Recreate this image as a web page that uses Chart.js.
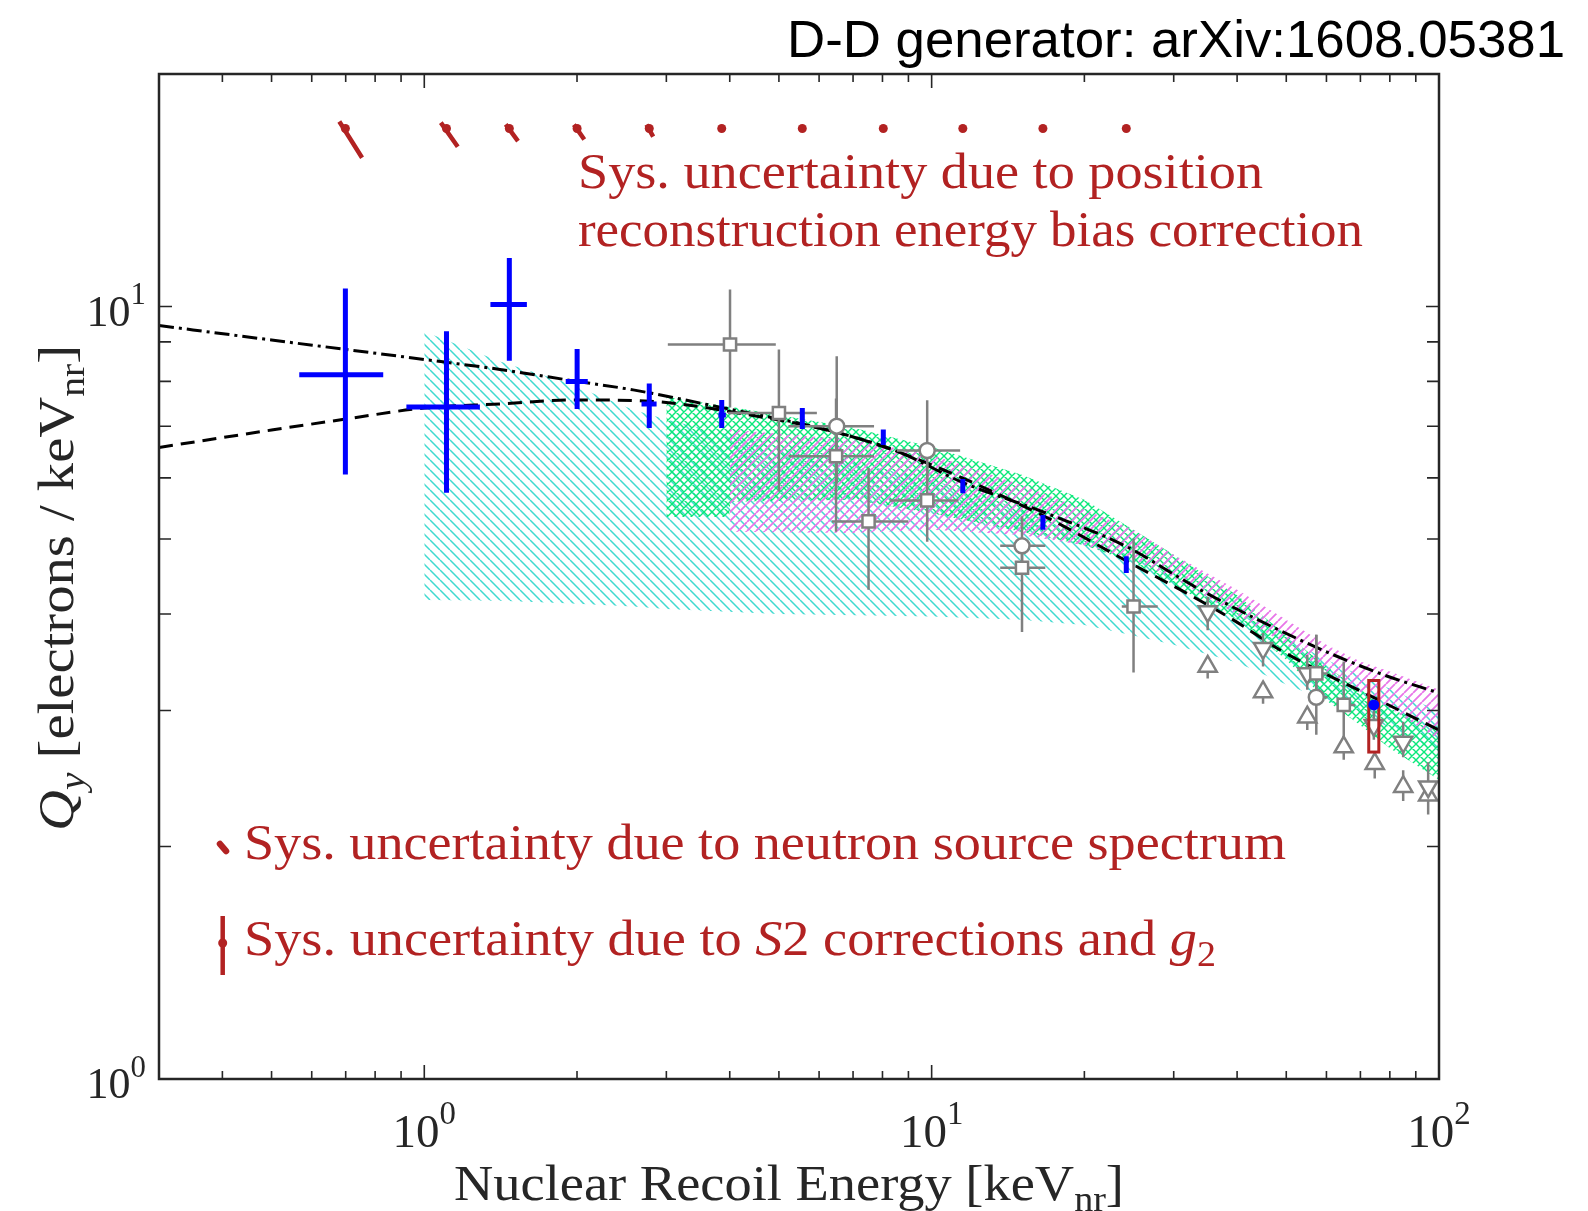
<!DOCTYPE html>
<html>
<head>
<meta charset="utf-8">
<script src="https://cdn.jsdelivr.net/npm/chart.js@4/dist/chart.umd.min.js"></script>
<style>
  html, body { margin: 0; padding: 0; background: #ffffff; }
  #wrap { width: 1588px; height: 1211px; }
</style>
</head>
<body>
<div id="wrap"><canvas id="qy" width="1588" height="1211"></canvas></div>
<script>
// ---------- axis ticks ----------
const xMajorTicks = [1, 10, 100];
const xTickExponents = ['0', '1', '2'];
const xMinorTicks = [0.4, 0.5, 0.6, 0.7, 0.8, 0.9, 2, 3, 4, 5, 6, 7, 8, 9, 20, 30, 40, 50, 60, 70, 80, 90];
const yMajorTicks = [1, 10];
const yTickExponents = ['0', '1'];
const yMinorTicks = [2, 3, 4, 5, 6, 7, 8, 9, 20];

// ---------- LUX D-D charge yield (keVnr, electrons/keVnr) ----------
const luxE    = [0.699, 1.106, 1.471, 2.001, 2.776, 3.857, 5.56, 8.03, 11.52, 16.57, 24.19];
const luxQy   = [8.16, 7.41, 10.06, 8.00, 7.48, 7.24, 7.16, 6.77, 5.86, 5.26, 4.63];
const luxQyLo = [6.06, 5.74, 8.51, 7.37, 6.96, 6.96, 6.94, 6.62, 5.73, 5.14, 4.52];
const luxQyHi = [10.55, 9.29, 11.56, 8.81, 7.95, 7.57, 7.39, 6.93, 5.98, 5.37, 4.75];
const luxELo  = [0.567, 0.922, 1.35, 1.90, 2.68, 3.80, 5.56, 8.03, 11.52, 16.57, 24.19];
const luxEHi  = [0.83, 1.287, 1.593, 2.10, 2.87, 3.93, 5.56, 8.03, 11.52, 16.57, 24.19];

// 73.9 keV endpoint point and its systematic box
const endE  = [74.4];
const endQy = [3.05];
const endBoxE  = [72.7, 76.1];
const endBoxQy = [2.65, 3.28];

// neutron source spectrum systematics, drawn as a row above the data
const specQy   = [17, 17, 17, 17, 17, 17, 17, 17, 17, 17, 17];
const specE0   = [0.680, 1.078, 1.447, 1.972, 2.741, 3.857, 5.56, 8.03, 11.52, 16.57, 24.19];
const specQy0  = [17.36, 17.3, 17.21, 17.2, 17.2, 17, 17, 17, 17, 17, 17];
const specE1   = [0.754, 1.164, 1.53, 2.067, 2.826, 3.857, 5.56, 8.03, 11.52, 16.57, 24.19];
const specQy1  = [15.58, 16.1, 16.37, 16.45, 16.59, 17, 17, 17, 17, 17, 17];

// ---------- earlier measurements (open markers) ----------
const sqE    = [4.005, 5.00, 6.48, 7.51, 9.80, 15.07, 25.0, 57.3, 64.9];
const sqQy   = [8.93, 7.28, 6.40, 5.27, 5.61, 4.59, 4.09, 3.35, 3.05];
const sqELo  = [3.02, 3.97, 5.22, 6.36, 8.26, 13.65, 23.7, 55.3, 63.0];
const sqEHi  = [4.93, 5.94, 7.70, 9.00, 11.29, 16.75, 27.9, 60.3, 68.4];
const sqQyLo = [7.40, 5.76, 5.11, 4.30, 4.96, 3.79, 3.36, 3.12, 2.75];
const sqQyHi = [10.52, 8.80, 7.60, 6.18, 6.30, 4.90, 5.01, 3.76, 3.47];

const ciE    = [6.50, 9.80, 15.07, 57.3];
const ciQy   = [7.00, 6.51, 4.90, 3.12];
const ciELo  = [5.22, 8.54, 13.65, 55.3];
const ciEHi  = [7.70, 11.38, 16.75, 60.3];
const ciQyLo = [5.90, 5.90, 4.60, 2.79];
const ciQyHi = [8.62, 7.56, 5.35, 3.76];

const dnE    = [35.0, 45.0, 55.0, 74.4, 85.0, 95.2];
const dnQy   = [4.03, 3.61, 3.35, 2.87, 2.73, 2.39];
const dnQyLo = [3.81, 3.42, 3.19, 2.75, 2.61, 2.39];
const dnQyHi = [4.21, 3.78, 3.54, 3.00, 2.90, 2.57];

const upE    = [35.0, 45.0, 55.0, 64.9, 74.7, 85.0, 95.2];
const upQy   = [3.42, 3.17, 2.94, 2.69, 2.56, 2.39, 2.33];
const upQyLo = [3.30, 3.06, 2.83, 2.59, 2.45, 2.29, 2.20];
const upQyHi = [3.50, 3.25, 3.02, 2.78, 2.63, 2.51, 2.33];

// ---------- model curves ----------
const dashDotE  = [0.3, 0.5, 0.7, 1.0, 1.41, 2.0, 2.58, 3.78, 6.4, 8.67, 11.5, 16.6, 24.2, 30.9, 33.8, 53.3, 76.4, 100];
const dashDotQy = [9.45, 9.05, 8.80, 8.54, 8.29, 8.0, 7.80, 7.42, 6.89, 6.47, 5.92, 5.42, 4.89, 4.45, 4.30, 3.70, 3.35, 3.16];
const dashedE   = [0.3, 0.5, 0.7, 1.0, 1.41, 1.96, 2.79, 3.39, 4.06, 6.39, 8.67, 16.6, 25.0, 30.9, 39.3, 48.7, 76.4, 100];
const dashedQy  = [6.57, 6.92, 7.15, 7.39, 7.48, 7.57, 7.54, 7.44, 7.30, 6.89, 6.47, 5.36, 4.63, 4.30, 3.93, 3.59, 3.09, 2.83];

// ---------- hatched bands ----------
const cyanE  = [1, 1.41, 1.91, 2.58, 3, 5, 10, 15, 20, 25, 30, 40, 50, 60, 70, 80, 100];
const cyanHi = [9.28, 8.49, 7.97, 7.35, 7.14, 6.58, 5.97, 5.46, 5.04, 4.74, 4.45, 4.02, 3.72, 3.49, 3.33, 3.20, 2.99];
const cyanLo = [4.17, 4.16, 4.13, 4.09, 4.06, 4.00, 3.97, 3.93, 3.87, 3.75, 3.65, 3.46, 3.24, 3.09, 2.97, 2.85, 2.65];

const greenE  = [3, 3.99, 4.01, 7, 10, 15, 20, 25, 30, 40, 50, 60, 70, 80, 100];
const greenHi = [7.64, 7.42, 7.42, 6.97, 6.58, 6.06, 5.62, 5.14, 4.77, 4.23, 3.76, 3.42, 3.19, 3.02, 2.83];
const greenLo = [5.34, 5.34, 5.59, 5.62, 5.40, 5.11, 4.91, 4.66, 4.36, 3.93, 3.49, 3.09, 2.87, 2.68, 2.44];

const pinkE  = [4, 7, 10, 15, 20, 25, 30, 40, 50, 60, 70, 80, 100];
const pinkHi = [6.93, 6.72, 6.43, 5.88, 5.46, 5.14, 4.77, 4.30, 3.93, 3.65, 3.47, 3.37, 3.19];
const pinkLo = [5.11, 5.09, 5.14, 5.06, 4.91, 4.70, 4.45, 3.99, 3.65, 3.37, 3.17, 3.02, 2.75];

// ---------- styling ----------
const GRAY = '#808080';
const RED = '#B22222';
const BLUE = '#0000FF';
const AXIS = '#262626';
const SERIF = '"Liberation Serif", "DejaVu Serif", serif';
const SANS = '"Liberation Sans", Arial, sans-serif';

const pts = (xs, ys) => xs.map((x, i) => ({ x: x, y: ys[i] }));

function hatch(color, size, dirs, lw) {
  const c = document.createElement('canvas');
  c.width = size; c.height = size;
  const g = c.getContext('2d');
  g.strokeStyle = color; g.lineWidth = lw;
  g.beginPath();
  for (let k = -1; k <= 1; k++) {
    if (dirs.indexOf('\\') >= 0) { g.moveTo(k * size, 0); g.lineTo(k * size + size, size); }
    if (dirs.indexOf('/') >= 0) { g.moveTo(k * size, size); g.lineTo(k * size + size, 0); }
  }
  g.stroke();
  return g.createPattern(c, 'repeat');
}

const cyanHatch = hatch('rgb(64,218,208)', 10, '\\', 1.5);
const greenHatch = hatch('rgb(10,232,122)', 8, '\\/', 1.4);
const pinkHatch = hatch('rgb(232,118,232)', 9, '/', 1.8);

// ---------- drawing helpers (all positions go through the chart scales) ----------
function errBars(chart, ctx, xs, ys, xlo, xhi, ylo, yhi, color, width) {
  const X = chart.scales.x, Y = chart.scales.y;
  ctx.strokeStyle = color; ctx.lineWidth = width; ctx.lineCap = 'butt';
  ctx.beginPath();
  for (let i = 0; i < xs.length; i++) {
    const px = X.getPixelForValue(xs[i]);
    const py = Y.getPixelForValue(ys[i]);
    if (ylo && ylo[i] !== yhi[i]) {
      ctx.moveTo(px, Y.getPixelForValue(ylo[i]));
      ctx.lineTo(px, Y.getPixelForValue(yhi[i]));
    }
    if (xlo && xlo[i] !== xhi[i]) {
      ctx.moveTo(X.getPixelForValue(xlo[i]), py);
      ctx.lineTo(X.getPixelForValue(xhi[i]), py);
    }
  }
  ctx.stroke();
}

const preDraw = {
  up(chart, ctx) {
    errBars(chart, ctx, sqE, sqQy, sqELo, sqEHi, sqQyLo, sqQyHi, GRAY, 2.5);
    errBars(chart, ctx, ciE, ciQy, ciELo, ciEHi, ciQyLo, ciQyHi, GRAY, 2.5);
    errBars(chart, ctx, dnE, dnQy, null, null, dnQyLo, dnQyHi, GRAY, 2.5);
    errBars(chart, ctx, upE, upQy, null, null, upQyLo, upQyHi, GRAY, 2.5);
  },
  endpoint(chart, ctx) {
    errBars(chart, ctx, luxE, luxQy, luxELo, luxEHi, luxQyLo, luxQyHi, BLUE, 5);
    const X = chart.scales.x, Y = chart.scales.y;
    const x0 = X.getPixelForValue(endBoxE[0]), x1 = X.getPixelForValue(endBoxE[1]);
    const y0 = Y.getPixelForValue(endBoxQy[1]), y1 = Y.getPixelForValue(endBoxQy[0]);
    ctx.strokeStyle = RED; ctx.lineWidth = 3;
    ctx.strokeRect(x0, y0, x1 - x0, y1 - y0);
  },
  spectrum(chart, ctx) {
    const X = chart.scales.x, Y = chart.scales.y;
    ctx.strokeStyle = RED; ctx.lineWidth = 4.5; ctx.lineCap = 'butt';
    ctx.beginPath();
    for (let i = 0; i < specE0.length; i++) {
      if (specE0[i] === specE1[i]) continue;
      ctx.moveTo(X.getPixelForValue(specE0[i]), Y.getPixelForValue(specQy0[i]));
      ctx.lineTo(X.getPixelForValue(specE1[i]), Y.getPixelForValue(specQy1[i]));
    }
    ctx.stroke();
  }
};

function segFont(s, size, fam) {
  const fs = (s.sub || s.sup) ? size * 0.7 : size;
  return (s.italic ? 'italic ' : '') + fs.toFixed(2) + 'px ' + fam;
}
function richWidth(ctx, segs, size, fam) {
  let w = 0;
  for (const s of segs) { ctx.font = segFont(s, size, fam); w += ctx.measureText(s.t).width; }
  return w;
}
function drawRich(ctx, segs, x, y, size, fam, color, targetW) {
  const w = richWidth(ctx, segs, size, fam);
  const sx = targetW ? targetW / w : 1;
  ctx.save();
  ctx.translate(x, y);
  ctx.scale(sx, 1);
  ctx.fillStyle = color; ctx.textAlign = 'left'; ctx.textBaseline = 'alphabetic';
  let cx = 0;
  for (const s of segs) {
    ctx.font = segFont(s, size, fam);
    const dy = s.sub ? size * 0.22 : (s.sup ? -size * 0.48 : 0);
    ctx.fillText(s.t, cx, dy);
    cx += ctx.measureText(s.t).width;
  }
  ctx.restore();
}

const decor = {
  id: 'decor',
  beforeDatasetDraw(chart, args) {
    const ds = chart.data.datasets[args.index];
    const fn = preDraw[ds.label];
    if (!fn) return;
    const ctx = chart.ctx, a = chart.chartArea;
    ctx.save();
    ctx.beginPath(); ctx.rect(a.left, a.top, a.right - a.left, a.bottom - a.top); ctx.clip();
    fn(chart, ctx);
    ctx.restore();
  },
  afterDraw(chart) {
    const ctx = chart.ctx, a = chart.chartArea;
    const X = chart.scales.x, Y = chart.scales.y;
    ctx.save();
    // frame
    ctx.strokeStyle = AXIS; ctx.lineWidth = 2.5;
    ctx.strokeRect(a.left, a.top, a.right - a.left, a.bottom - a.top);
    // ticks, pointing inwards on all four sides
    ctx.lineWidth = 1.6;
    ctx.beginPath();
    const xt = (v, len) => {
      const p = X.getPixelForValue(v);
      ctx.moveTo(p, a.bottom); ctx.lineTo(p, a.bottom - len);
      ctx.moveTo(p, a.top); ctx.lineTo(p, a.top + len);
    };
    const yt = (v, len) => {
      const p = Y.getPixelForValue(v);
      ctx.moveTo(a.left, p); ctx.lineTo(a.left + len, p);
      ctx.moveTo(a.right, p); ctx.lineTo(a.right - len, p);
    };
    xMajorTicks.forEach(v => xt(v, 14));
    xMinorTicks.forEach(v => xt(v, 8));
    yMajorTicks.forEach(v => yt(v, 13));
    yMinorTicks.forEach(v => yt(v, 12));
    ctx.stroke();

    // tick labels
    xMajorTicks.forEach((v, i) => {
      const segs = [{ t: '10' }, { t: xTickExponents[i], sup: true }];
      const w = richWidth(ctx, segs, 47, SERIF);
      drawRich(ctx, segs, X.getPixelForValue(v) - w / 2, 1147, 47, SERIF, AXIS);
    });
    yMajorTicks.forEach((v, i) => {
      const segs = [{ t: '10' }, { t: yTickExponents[i], sup: true }];
      const w = richWidth(ctx, segs, 44, SERIF);
      drawRich(ctx, segs, 146 - w, Y.getPixelForValue(v) + 19, 44, SERIF, AXIS);
    });

    // axis titles
    drawRich(ctx, [{ t: 'Nuclear Recoil Energy [keV' }, { t: 'nr', sub: true }, { t: ']' }],
      454, 1200, 50, SERIF, AXIS, 670);
    ctx.save();
    ctx.translate(73, 831);
    ctx.rotate(-Math.PI / 2);
    drawRich(ctx, [{ t: 'Q', italic: true }, { t: 'y', italic: true, sub: true },
      { t: ' [electrons / keV' }, { t: 'nr', sub: true }, { t: ']' }],
      0, 0, 50, SERIF, AXIS, 486);
    ctx.restore();

    // header
    drawRich(ctx, [{ t: 'D-D generator: arXiv:1608.05381' }], 787, 57, 52, SANS, '#000000', 778);

    // annotations
    drawRich(ctx, [{ t: 'Sys. uncertainty due to position' }], 578, 188, 50, SERIF, RED, 685);
    drawRich(ctx, [{ t: 'reconstruction energy bias correction' }], 578, 246, 50, SERIF, RED, 785);
    drawRich(ctx, [{ t: 'Sys. uncertainty due to neutron source spectrum' }], 244, 859, 50, SERIF, RED, 1042);
    drawRich(ctx, [{ t: 'Sys. uncertainty due to ' }, { t: 'S', italic: true }, { t: '2 corrections and ' },
      { t: 'g', italic: true }, { t: '2', sub: true }], 244, 955, 50, SERIF, RED, 972);

    // legend glyphs for the two systematic markers
    ctx.strokeStyle = RED; ctx.fillStyle = RED;
    ctx.lineWidth = 6.5; ctx.lineCap = 'round';
    ctx.beginPath(); ctx.moveTo(220, 844); ctx.lineTo(226, 851); ctx.stroke();
    ctx.lineWidth = 4.5; ctx.lineCap = 'butt';
    ctx.beginPath(); ctx.moveTo(222.7, 916); ctx.lineTo(222.7, 975); ctx.stroke();
    ctx.beginPath(); ctx.arc(222.7, 943, 4.5, 0, Math.PI * 2); ctx.fill();
    ctx.restore();
  }
};

const bandStyle = { borderColor: 'rgba(0,0,0,0)', borderWidth: 1, pointRadius: 0, tension: 0 };

new Chart(document.getElementById('qy'), {
  type: 'line',
  data: {
    datasets: [
      Object.assign({ label: 'cyanHi', data: pts(cyanE, cyanHi), fill: '+1', backgroundColor: cyanHatch, order: 30 }, bandStyle),
      Object.assign({ label: 'cyanLo', data: pts(cyanE, cyanLo), fill: false, order: 30 }, bandStyle),
      Object.assign({ label: 'greenHi', data: pts(greenE, greenHi), fill: '+1', backgroundColor: greenHatch, order: 29 }, bandStyle),
      Object.assign({ label: 'greenLo', data: pts(greenE, greenLo), fill: false, order: 29 }, bandStyle),
      Object.assign({ label: 'pinkHi', data: pts(pinkE, pinkHi), fill: '+1', backgroundColor: pinkHatch, order: 28 }, bandStyle),
      Object.assign({ label: 'pinkLo', data: pts(pinkE, pinkLo), fill: false, order: 28 }, bandStyle),
      { label: 'dashdot', data: pts(dashDotE, dashDotQy), borderColor: '#000000', borderWidth: 3,
        borderDash: [15, 5, 3, 5], pointRadius: 0, fill: false, cubicInterpolationMode: 'monotone', order: 20 },
      { label: 'dashed', data: pts(dashedE, dashedQy), borderColor: '#000000', borderWidth: 3,
        borderDash: [14, 8], pointRadius: 0, fill: false, cubicInterpolationMode: 'monotone', order: 20 },
      { label: 'up', data: pts(upE, upQy), showLine: false, pointStyle: 'triangle', pointRadius: 10.5,
        pointBackgroundColor: '#ffffff', pointBorderColor: GRAY, pointBorderWidth: 2.5, order: 13 },
      { label: 'down', data: pts(dnE, dnQy), showLine: false, pointStyle: 'triangle', pointRotation: 180, pointRadius: 10.5,
        pointBackgroundColor: '#ffffff', pointBorderColor: GRAY, pointBorderWidth: 2.5, order: 12 },
      { label: 'circles', data: pts(ciE, ciQy), showLine: false, pointStyle: 'circle', pointRadius: 7.5,
        pointBackgroundColor: '#ffffff', pointBorderColor: GRAY, pointBorderWidth: 2.5, order: 11 },
      { label: 'squares', data: pts(sqE, sqQy), showLine: false, pointStyle: 'rect', pointRadius: 8.6,
        pointBackgroundColor: '#ffffff', pointBorderColor: GRAY, pointBorderWidth: 2.5, order: 10 },
      { label: 'endpoint', data: pts(endE, endQy), showLine: false, pointStyle: 'circle', pointRadius: 5.5,
        pointBackgroundColor: BLUE, pointBorderWidth: 0, order: 2 },
      { label: 'spectrum', data: pts(luxE, specQy), showLine: false, pointStyle: 'circle', pointRadius: 4.5,
        pointBackgroundColor: RED, pointBorderWidth: 0, order: 1 }
    ]
  },
  options: {
    responsive: false,
    animation: false,
    events: [],
    layout: { padding: { left: 159, top: 74, right: 149, bottom: 132 } },
    scales: {
      x: { type: 'logarithmic', min: 0.3, max: 100, display: false },
      y: { type: 'logarithmic', min: 1, max: 20, display: false }
    },
    plugins: { legend: { display: false }, tooltip: { enabled: false } }
  },
  plugins: [decor]
});
</script>
</body>
</html>
